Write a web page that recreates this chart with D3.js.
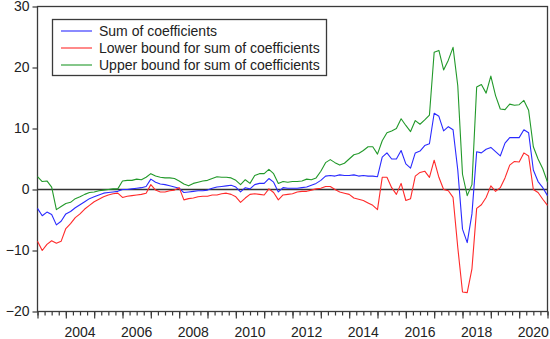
<!DOCTYPE html>
<html>
<head>
<meta charset="utf-8">
<script src="https://cdn.jsdelivr.net/npm/d3@7"></script>
<style>
  body { margin: 0; background: #fff; }
  svg { display: block; font-family: "Liberation Sans", Arial, sans-serif; }
</style>
</head>
<body>
<svg id="chart" width="550" height="339"></svg>
<script>
// bimonthly observations, 2003 to end of 2020
var startYear = 2003;
var stepYears = 1 / 6;

var sumCoef = [
  -3.1, -4.3, -3.7, -4.1, -5.8, -5.2, -4.0, -3.6, -3.0, -2.5, -2.0, -1.5,
  -1.2, -0.9, -0.6, -0.5, -0.4, -0.3, 0.0, 0.0, 0.1, 0.2, 0.3, 0.5,
  1.7, 1.2, 0.9, 0.8, 0.6, 0.4, 0.2, -0.5, -0.4, -0.3, -0.2, -0.2,
  -0.1, 0.2, 0.4, 0.5, 0.6, 0.7, 0.4, -0.4, 0.3, 0.1, 0.8, 1.0,
  1.0, 1.8, 1.2, -0.4, 0.3, 0.2, 0.2, 0.2, 0.3, 0.4, 0.7, 1.0,
  1.5, 2.2, 2.3, 2.2, 2.4, 2.3, 2.3, 2.4, 2.2, 2.3, 2.2, 2.2,
  2.1, 5.3, 6.0, 5.0, 5.0, 6.4, 4.2, 3.5, 6.0, 6.3, 7.2, 7.5,
  12.5, 12.0, 9.6, 10.3, 9.8, 3.2, -6.5, -8.7, -4.0, 6.2, 6.0, 6.6,
  6.9, 6.2, 5.5, 7.6, 8.5, 8.5, 8.5, 9.8, 9.3, 3.2, 1.3, 0.3, -1.0
];

var lowerBound = [
  -8.5, -10.0, -9.0, -8.4, -8.8, -8.5, -6.4, -5.6, -4.6, -4.0, -3.2, -2.6,
  -2.0, -1.6, -1.2, -0.9, -0.7, -0.6, -1.3, -1.1, -1.0, -0.9, -0.8, -0.6,
  0.8, -0.1, -0.4, -0.4, -0.2, -0.1, 0.3, -1.7, -1.5, -1.4, -1.2, -1.1,
  -1.1, -0.9, -0.9, -0.7, -0.6, -0.8, -1.2, -2.1, -1.4, -0.8, -0.7, -0.8,
  -0.9, 0.1, -0.5, -1.7, -0.9, -0.8, -0.7, -0.4, -0.3, -0.3, -0.1, 0.1,
  0.2, 0.5, 0.5, 0.0, -0.4, -0.6, -0.8, -1.4, -1.6, -1.8, -2.2, -2.6,
  -3.3, 2.0, 2.0, 0.3, -0.8, 1.0, -1.8, -1.5, 2.2, 2.8, 3.0, 2.0,
  4.8, 2.0, 0.0, -0.2, -1.3, -9.5, -16.8, -16.9, -13.0, -3.1, -2.5, -1.3,
  0.6, -0.3, 0.3, 1.9, 4.0, 4.6, 4.5, 6.0, 5.5, 0.0, -0.5, -1.6, -2.6
];

var upperBound = [
  2.1, 1.3, 1.4, 0.4, -3.3, -2.8, -2.3, -2.1, -1.5, -1.2, -0.8, -0.5,
  -0.4, -0.2, -0.1, 0.0, 0.1, 0.1, 1.4, 1.5, 1.5, 1.7, 1.6, 2.0,
  2.6, 2.2, 2.0, 1.9, 1.9, 1.8, 1.4, 0.9, 0.6, 1.0, 1.2, 1.4,
  1.5, 1.8, 2.1, 2.0, 2.0, 1.9, 1.5, 0.8, 1.6, 1.0, 2.3, 2.6,
  2.6, 3.3, 2.6, 1.0, 1.3, 1.2, 1.3, 1.3, 1.4, 1.7, 1.6, 1.9,
  3.0, 4.4, 4.9, 4.4, 4.0, 4.3, 5.0, 5.7, 5.9, 6.4, 7.0, 7.0,
  5.8, 8.0, 9.3, 9.6, 10.0, 11.6, 10.5, 9.5, 11.3, 10.7, 11.4, 12.2,
  22.5, 22.8, 19.6, 21.2, 23.3, 17.0, 2.5, -1.0, 0.8, 16.8, 17.2, 15.8,
  18.6, 15.4, 13.2, 13.1, 14.0, 13.8, 13.9, 14.6, 13.0, 7.0, 5.0, 3.4, 1.2
];

var yTicks = [-20, -10, 0, 10, 20, 30];
var yearLabels = [2004, 2006, 2008, 2010, 2012, 2014, 2016, 2018, 2020];

var seriesNames = ["Sum of coefficients", "Lower bound for sum of coefficients", "Upper bound for sum of coefficients"];
var seriesColors = ["#2a2aff", "#ff2a2a", "#22992a"];

var svg = d3.select("#chart");
var plotL = 37.5, plotR = 547.5, plotT = 6.5, plotB = 311.5;

var xScale = d3.scaleLinear().domain([2003, 2021]).range([plotL, plotR]);
var yScale = d3.scaleLinear().domain([-20, 30]).range([plotB, plotT]);

var dates = sumCoef.map(function(d, i){ return startYear + i * stepYears; });

// frame
svg.append("rect")
  .attr("x", plotL).attr("y", plotT)
  .attr("width", plotR - plotL).attr("height", plotB - plotT)
  .attr("fill", "none").attr("stroke", "#3a3a3a").attr("stroke-width", 1.3);

// y axis
var yAxis = svg.append("g")
  .attr("transform", "translate(" + plotL + ",0)")
  .call(d3.axisLeft(yScale).tickValues(yTicks).tickSize(5).tickPadding(3));
yAxis.select(".domain").remove();
yAxis.selectAll("line").attr("stroke", "#3a3a3a").attr("stroke-width", 1.3);
yAxis.selectAll("text").attr("font-size", 14).attr("fill", "#222")
  .attr("font-family", "Liberation Sans, Arial, sans-serif");

// x axis: quarterly minor ticks, yearly major ticks, labels centred in the year
var quarters = d3.range(2003, 2021.01, 0.25);
var years = d3.range(2003, 2022, 1);
var xMinor = svg.append("g")
  .attr("transform", "translate(0," + plotB + ")")
  .call(d3.axisBottom(xScale).tickValues(quarters).tickSize(4).tickFormat(""));
xMinor.select(".domain").remove();
var xMajor = svg.append("g")
  .attr("transform", "translate(0," + plotB + ")")
  .call(d3.axisBottom(xScale).tickValues(years).tickSize(7).tickFormat(""));
xMajor.select(".domain").remove();
svg.selectAll(".tick line").attr("stroke", "#3a3a3a").attr("stroke-width", 1.2);

svg.append("g").selectAll("text")
  .data(yearLabels)
  .enter().append("text")
  .attr("x", function(d){ return xScale(d + 0.5); })
  .attr("y", 336.5)
  .attr("text-anchor", "middle")
  .attr("font-size", 14)
  .attr("fill", "#222")
  .text(function(d){ return d; });

// zero line
svg.append("line")
  .attr("x1", plotL).attr("x2", plotR)
  .attr("y1", yScale(0)).attr("y2", yScale(0))
  .attr("stroke", "#333").attr("stroke-width", 1.4);

// series
var line = d3.line()
  .x(function(d){ return xScale(d[0]); })
  .y(function(d){ return yScale(d[1]); });

[sumCoef, lowerBound, upperBound].forEach(function(vals, k){
  var pts = vals.map(function(v, i){ return [dates[i], v]; });
  svg.append("path")
    .attr("d", line(pts))
    .attr("fill", "none")
    .attr("stroke", seriesColors[k])
    .attr("stroke-width", 1.1)
    .attr("stroke-linejoin", "round");
});

// legend
var legend = svg.append("g");
legend.append("rect")
  .attr("x", 52.5).attr("y", 19.5)
  .attr("width", 274).attr("height", 56)
  .attr("fill", "#fff").attr("stroke", "#3a3a3a").attr("stroke-width", 1.3);
seriesNames.forEach(function(name, k){
  var yy = 31 + k * 17;
  legend.append("line")
    .attr("x1", 61).attr("x2", 92)
    .attr("y1", yy).attr("y2", yy)
    .attr("stroke", seriesColors[k]).attr("stroke-width", 1.1);
  legend.append("text")
    .attr("x", 99).attr("y", yy + 5)
    .attr("font-size", 14)
    .attr("fill", "#222")
    .text(name);
});
</script>
</body>
</html>
